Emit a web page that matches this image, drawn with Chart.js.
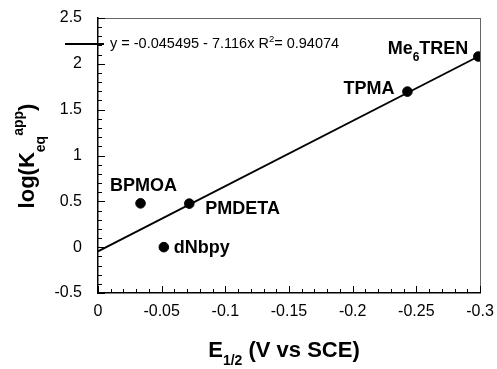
<!DOCTYPE html>
<html>
<head>
<meta charset="utf-8">
<script src="https://cdn.jsdelivr.net/npm/chart.js@4.4.0/dist/chart.umd.min.js"></script>
<style>
  html, body { margin: 0; padding: 0; background: #fff; }
  #c { display: block; }
</style>
</head>
<body>
<canvas id="c" width="497" height="369"></canvas>
<script>
// ---- data ----
const ligands = ['BPMOA', 'PMDETA', 'dNbpy', 'TPMA', 'Me6TREN'];
const e12 = [-0.0334, -0.0717, -0.0517, -0.243, -0.2987];
const logK = [0.478, 0.475, 0.0, 1.697, 2.08];
const fitX = [0, -0.2987];
const fitY = [-0.0455, 2.08];
const xTickLabels = ['0', '-0.05', '-0.1', '-0.15', '-0.2', '-0.25', '-0.3'];
const yTickLabels = ['-0.5', '0', '0.5', '1', '1.5', '2', '2.5'];
const equationText = ['y = -0.045495 - 7.116x R', '2', '= 0.94074'];

const FONT = '"Liberation Sans", Arial, Helvetica, sans-serif';

function labelFor(list, v) {
  for (const s of list) if (Math.abs(parseFloat(s) - v) < 1e-6) return s;
  return '';
}

function drawRich(g, segs, x, y, align) {
  let total = 0;
  const widths = segs.map(s => { g.font = s.font; return g.measureText(s.t).width; });
  widths.forEach(w => total += w);
  let cx = align === 'right' ? x - total : align === 'center' ? x - total / 2 : x;
  g.textBaseline = 'alphabetic';
  g.textAlign = 'left';
  segs.forEach((s, i) => {
    g.font = s.font;
    g.fillText(s.t, cx, y + (s.dy || 0));
    cx += widths[i];
  });
}

function noOverflow(s) {
  s.paddingTop = 0; s.paddingBottom = 0; s.paddingLeft = 0; s.paddingRight = 0;
}

const decorPlugin = {
  id: 'decor',
  afterDraw(chart) {
    const g = chart.ctx;
    const xs = chart.scales.x, ys = chart.scales.y;
    const L = Math.round(ys.right), R = Math.round(xs.right), T = Math.round(ys.top), Bm = Math.round(xs.top);
    g.save();
    // top and right frame
    g.fillStyle = '#666';
    g.fillRect(L, T, R - L + 1, 1);
    g.fillRect(R, T, 1, Bm - T);
    // inward ticks
    g.fillStyle = '#000';
    for (let i = 0; i <= 30; i++) {
      const px = Math.round(xs.getPixelForValue(-i / 100));
      const len = i % 5 === 0 ? 7 : 4;
      g.fillRect(px, Bm - len, 1, len);
    }
    for (let i = -5; i <= 25; i++) {
      const py = Math.round(ys.getPixelForValue(i / 10));
      const len = i % 5 === 0 ? 7 : 4;
      g.fillRect(L, py, len, 1);
    }

    const meta = chart.getDatasetMeta(1);
    const B = 'bold 18px ' + FONT;
    const Bs = 'bold 12px ' + FONT;
    const place = [
      { dx: 3, dy: -12, align: 'center' },
      { dx: 16, dy: 10, align: 'left' },
      { dx: 10, dy: 6, align: 'left' },
      { dx: -13, dy: 2, align: 'right' },
      { dx: -10, dy: -3, align: 'right' }
    ];
    ligands.forEach((name, i) => {
      const p = meta.data[i];
      const pl = place[i];
      let segs;
      const m = name.match(/^(\D+)(\d)(\D+)$/);
      if (m) segs = [{ t: m[1], font: B }, { t: m[2], font: Bs, dy: 7 }, { t: m[3], font: B }];
      else segs = [{ t: name, font: B }];
      drawRich(g, segs, p.x + pl.dx, p.y + pl.dy, pl.align);
    });

    // legend line + equation
    g.fillRect(65, 43, 39, 2);
    const Rf = '14.5px ' + FONT;
    drawRich(g, [
      { t: equationText[0], font: Rf },
      { t: equationText[1], font: '9.5px ' + FONT, dy: -6 },
      { t: equationText[2], font: Rf }
    ], 110, 48, 'left');

    // x title
    const Tf = 'bold 22px ' + FONT;
    const Ts = 'bold 14px ' + FONT;
    drawRich(g, [
      { t: 'E', font: Tf },
      { t: '1/2', font: Ts, dy: 8 },
      { t: ' (V vs SCE)', font: Tf }
    ], 284, 357, 'center');

    // y title (rotated)
    g.save();
    g.translate(34, 156);
    g.rotate(-Math.PI / 2);
    drawRich(g, [
      { t: 'log(K', font: Tf },
      { t: 'eq', font: Ts, dy: 11 },
      { t: 'app', font: Ts, dy: -11 },
      { t: ')', font: Tf }
    ], 0, 0, 'center');
    g.restore();

    g.restore();
  }
};

new Chart(document.getElementById('c').getContext('2d'), {
  type: 'scatter',
  data: {
    datasets: [
      {
        label: 'fit',
        data: fitX.map((x, i) => ({ x, y: fitY[i] })),
        showLine: true,
        borderColor: '#000',
        borderWidth: 1.8,
        pointRadius: 0,
        fill: false
      },
      {
        label: 'ligands',
        data: e12.map((x, i) => ({ x, y: logK[i] })),
        pointRadius: 4.8,
        pointBackgroundColor: '#000',
        pointBorderColor: '#000',
        showLine: false
      }
    ]
  },
  options: {
    responsive: false,
    animation: false,
    devicePixelRatio: 1,
    layout: { padding: { left: 0, top: 18, right: 17, bottom: 0 } },
    plugins: { legend: { display: false }, tooltip: { enabled: false } },
    scales: {
      x: {
        type: 'linear',
        reverse: true,
        min: -0.3,
        max: 0,
        afterFit(s) { s.height = 76; noOverflow(s); },
        grid: { display: false, drawTicks: false },
        border: { display: true, color: '#000', width: 1.5 },
        ticks: {
          stepSize: 0.05,
          padding: 9,
          maxRotation: 0,
          autoSkip: false,
          color: '#000',
          font: { family: FONT, size: 16 },
          callback: v => labelFor(xTickLabels, v)
        }
      },
      y: {
        type: 'linear',
        min: -0.5,
        max: 2.5,
        afterFit(s) { s.width = 98; noOverflow(s); },
        grid: { display: false, drawTicks: false },
        border: { display: true, color: '#000', width: 1.5 },
        ticks: {
          stepSize: 0.5,
          padding: 16,
          autoSkip: false,
          color: '#000',
          font: { family: FONT, size: 16 },
          callback: v => labelFor(yTickLabels, v)
        }
      }
    }
  },
  plugins: [decorPlugin]
});
</script>
</body>
</html>
